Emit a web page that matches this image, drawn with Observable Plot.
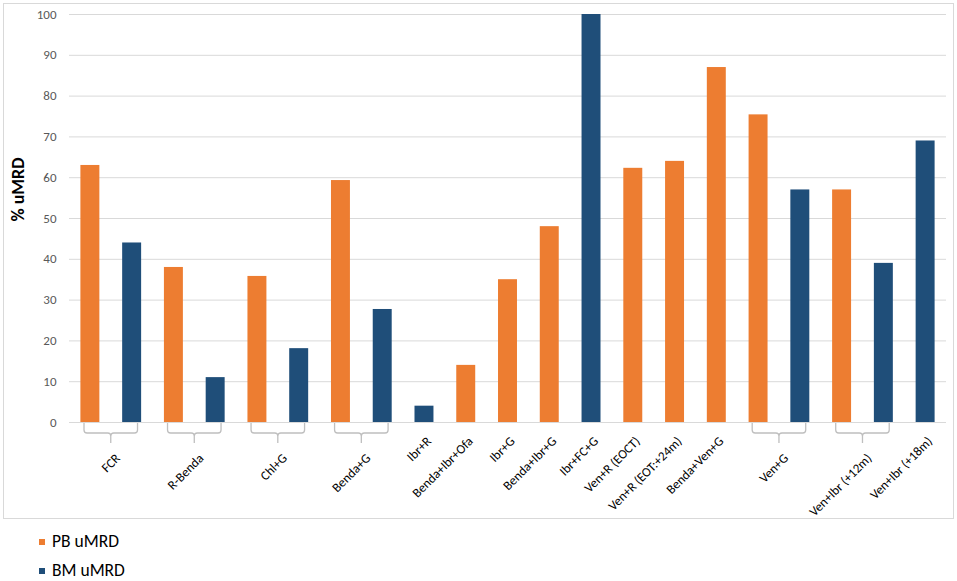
<!DOCTYPE html>
<html>
<head>
<meta charset="utf-8">
<script src="https://cdn.jsdelivr.net/npm/d3@7"></script>
<script src="https://cdn.jsdelivr.net/npm/@observablehq/plot@0.6"></script>
<style>
  html, body { margin: 0; padding: 0; background: #fff; }
  body { width: 957px; height: 581px; position: relative; overflow: hidden;
         font-family: Carlito, Calibri, Lato, "Liberation Sans", sans-serif; }
  #box { position: absolute; left: 3px; top: 3px; width: 951px; height: 516px;
         border: 1px solid #d9d9d9; box-sizing: border-box; }
  #chart { position: absolute; left: 0; top: 0; }
  .lg { position: absolute; left: 39px; font-size: 17.5px; color: #000; line-height: 14px; }
  .lg span.sw { position: absolute; left: 0; width: 6px; height: 6px; }
  .lg span.tx { position: absolute; left: 13px; white-space: nowrap; }
</style>
</head>
<body>
<div id="box"><div id="chart"></div></div>
<div class="lg" style="top:539px"><span class="sw" style="background:#ED7D31;top:0"></span><span class="tx" style="top:-5px">PB uMRD</span></div>
<div class="lg" style="top:568px"><span class="sw" style="background:#1F4E79;top:0"></span><span class="tx" style="top:-5px">BM uMRD</span></div>
<script>
const categories = ["FCR","R-Benda","Chl+G","Benda+G","Ibr+R","Benda+Ibr+Ofa","Ibr+G","Benda+Ibr+G","Ibr+FC+G","Ven+R (EOCT)","Ven+R (EOT:+24m)","Benda+Ven+G","Ven+G","Ven+Ibr (+12m)","Ven+Ibr (+18m)"];
const pbValues = [63, 38, 35.8, 59.3, null, 14, 35, 48, null, 62.3, 64, 87, 75.4, 57, null];
const bmValues = [44, 11, 18.1, 27.7, 4, null, null, null, 100, null, null, null, 57, 39, 69];
const seriesNames = ["PB uMRD", "BM uMRD"];
const seriesColors = ["#ED7D31", "#1F4E79"];
const yTicks = [0, 10, 20, 30, 40, 50, 60, 70, 80, 90, 100];

// build slot table from the arrays
const bars = [];
const groups = [];
let slot = 0;
categories.forEach((name, i) => {
  const start = slot;
  [pbValues[i], bmValues[i]].forEach((v, s) => {
    if (v != null) { bars.push({slot, value: v, series: seriesNames[s]}); slot++; }
  });
  groups.push({name, start, end: slot, center: (start + slot) / 2, pair: slot - start > 1});
});
const nSlots = slot;

const brackets = (index, scales, values, dimensions) => {
  const g = d3.create("svg:g").attr("fill", "none").attr("stroke", "#bfbfbf").attr("stroke-width", 1.3);
  const y0 = scales.y(0);
  for (const gr of groups.filter(d => d.pair)) {
    const xa = scales.x(gr.start) + 15, xb = scales.x(gr.end) - 15;
    const xm = (scales.x(gr.start) + scales.x(gr.end)) / 2;
    const yh = y0 + 11;
    g.append("path").attr("d",
      `M${xa},${y0 + 1}V${yh - 3}q0,3 3,3H${xm - 3}q3,0 3,3V${y0 + 21}` +
      `M${xm},${yh + 3}q0,-3 3,-3H${xb - 3}q3,0 3,-3V${y0 + 1}`);
  }
  return g.node();
};

const plot = Plot.plot({
  width: 948,
  height: 512,
  marginLeft: 65,
  marginRight: 6,
  marginTop: 10,
  marginBottom: 94,
  style: {fontFamily: "Carlito, Calibri, Lato, 'Liberation Sans', sans-serif", fontSize: "13px", color: "#595959", background: "transparent", overflow: "visible"},
  x: {type: "linear", domain: [0, nSlots], axis: null},
  y: {domain: [0, 100], nice: false, axis: null},
  color: {domain: seriesNames, range: seriesColors},
  marks: [
    Plot.ruleY(yTicks, {stroke: "#d9d9d9", strokeWidth: 1}),
    Plot.rectY(bars, {x1: "slot", x2: d => d.slot + 1, y1: 0, y2: "value", fill: "series", insetLeft: 11.4, insetRight: 11.4}),
    Plot.axisY(yTicks, {tickSize: 0, tickPadding: 13, label: null, fontSize: 13, fill: "#595959"}),
    Plot.text(["% uMRD"], {frameAnchor: "left", dx: -51, dy: 3, rotate: -90, fontSize: 18, fontWeight: "bold", fill: "#000"}),
    brackets,
    Plot.text(groups.filter(d => d.pair), {x: "center", y: 0, text: "name", rotate: -45, textAnchor: "end", lineAnchor: "top", dx: 3, dy: 30, fill: "#000", fontSize: 13}),
    Plot.text(groups.filter(d => !d.pair), {x: "center", y: 0, text: "name", rotate: -45, textAnchor: "end", lineAnchor: "top", dx: 1, dy: 13, fill: "#000", fontSize: 13})
  ]
});
document.getElementById("chart").appendChild(plot);
</script>
</body>
</html>
